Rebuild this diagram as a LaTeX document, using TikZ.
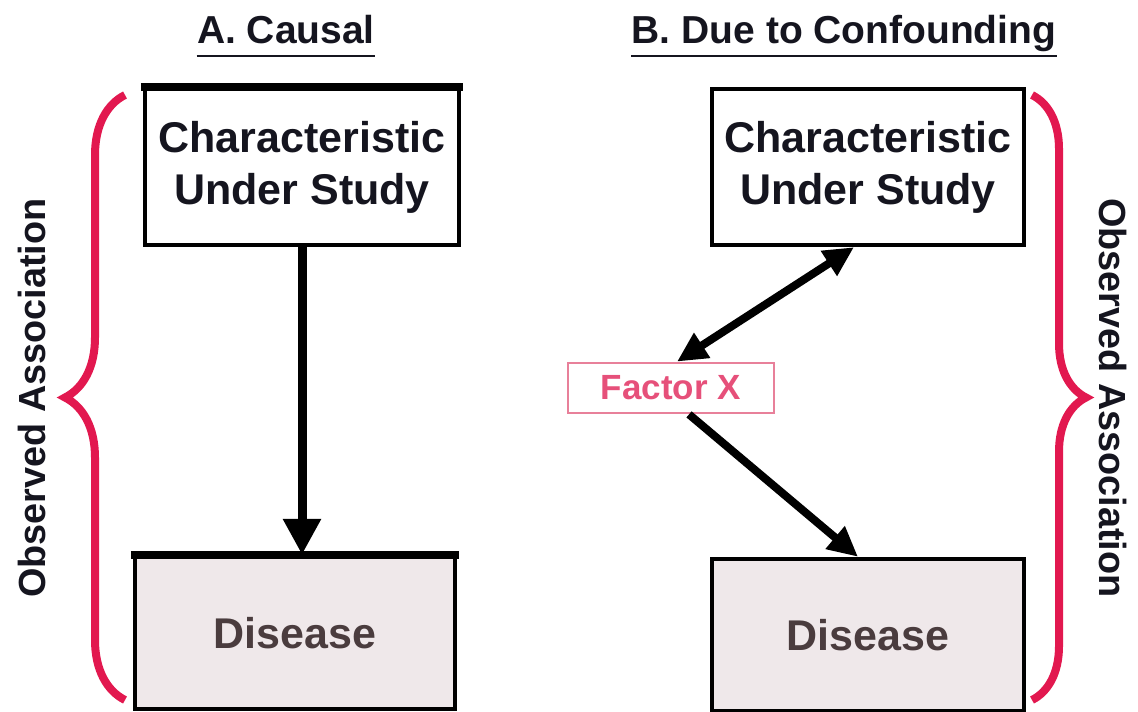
\documentclass[tikz,border=0pt]{standalone}
\usepackage{fontspec}
\setmainfont{Liberation Sans}
\usetikzlibrary{arrows.meta,decorations.pathreplacing}

\definecolor{bracered}{HTML}{E2184F}
\definecolor{factorred}{HTML}{E6507A}
\definecolor{factorline}{HTML}{E8809A}
\definecolor{diseasefill}{HTML}{EFE8EA}
\definecolor{diseaseink}{HTML}{4A3C3E}
\definecolor{inkdark}{HTML}{15151F}

\tikzset{
  box/.style={draw=black,line width=2.2pt,inner sep=0pt,align=center,
    minimum width=157pt,minimum height=78pt,
    font=\fontsize{21.5}{26}\selectfont\bfseries,text=inkdark},
  diseasebox/.style={box,fill=diseasefill,text=diseaseink,minimum height=76pt},
  factorbox/.style={draw=factorline,line width=1.4pt,minimum width=103pt,minimum height=25pt,
    inner sep=0pt,font=\fontsize{17.5}{20}\selectfont\bfseries,text=factorred},
  headline/.style={anchor=base,inner sep=0pt,font=\fontsize{19.5}{23}\selectfont\bfseries,text=inkdark},
  sidelabel/.style={inner sep=0pt,font=\fontsize{18.9}{22}\selectfont\bfseries,text=inkdark},
  redbrace/.style={draw=bracered,line width=4pt,decorate},
  bigarrow/.style={line width=4.5pt,-{Triangle[length=18pt,width=18pt]}},
  slantarrow/.style={line width=4pt,-{Triangle[length=15pt,width=14pt]}}
}

\begin{document}
\begin{tikzpicture}[x=0.5pt,y=-0.5pt]
  \useasboundingbox (0,0) rectangle (1138,711);

  % A. causal
  \node[headline] (titleA) at (286,44) {A. Causal};
  \draw[line width=1.4pt,inkdark] ([yshift=-6pt]titleA.base west) -- ([yshift=-6pt]titleA.base east);

  \node[box] (charA) at (302,167) {Characteristic\\Under Study};
  \draw[line width=4pt] ([xshift=-1pt]charA.north west) -- ([xshift=1pt]charA.north east);
  \node[diseasebox,minimum width=160pt] (disA) at (295,633) {Disease};
  \draw[line width=4pt] ([xshift=-1pt]disA.north west) -- ([xshift=1pt]disA.north east);

  \draw[bigarrow] (charA.south) -- (charA.south |- disA.north);

  \coordinate (braceAtop) at (125,95);
  \coordinate (braceAbot) at (125,700);
  \draw[redbrace,decoration={brace,amplitude=30pt}] (braceAbot) -- (braceAtop);
  \node[sidelabel,rotate=90] (obsA) at (32,398) {Observed Association};

  % B. due to confounding
  \node[headline] (titleB) at (844,44) {B. Due to Confounding};
  \draw[line width=1.4pt,inkdark] ([yshift=-6pt]titleB.base west) -- ([yshift=-6pt]titleB.base east);

  \node[box,minimum width=156pt] (charB) at (868,167) {Characteristic\\Under Study};
  \node[diseasebox,minimum width=156pt] (disB) at (868,635) {Disease};
  \node[factorbox] (factor) at (671,388) {Factor X};

  \draw[slantarrow,{Triangle[length=15pt,width=14pt]}-{Triangle[length=15pt,width=14pt]}]
    ([xshift=3pt]factor.north) -- ([xshift=-7pt]charB.south);
  \draw[slantarrow] ([xshift=9pt]factor.south) -- ([xshift=-5pt]disB.north);

  \coordinate (braceBtop) at (1032,95);
  \coordinate (braceBbot) at (1032,700);
  \draw[redbrace,decoration={brace,amplitude=27pt}] (braceBtop) -- (braceBbot);
  \node[sidelabel,rotate=-90] (obsB) at (1113,398) {Observed Association};

\end{tikzpicture}
\end{document}
